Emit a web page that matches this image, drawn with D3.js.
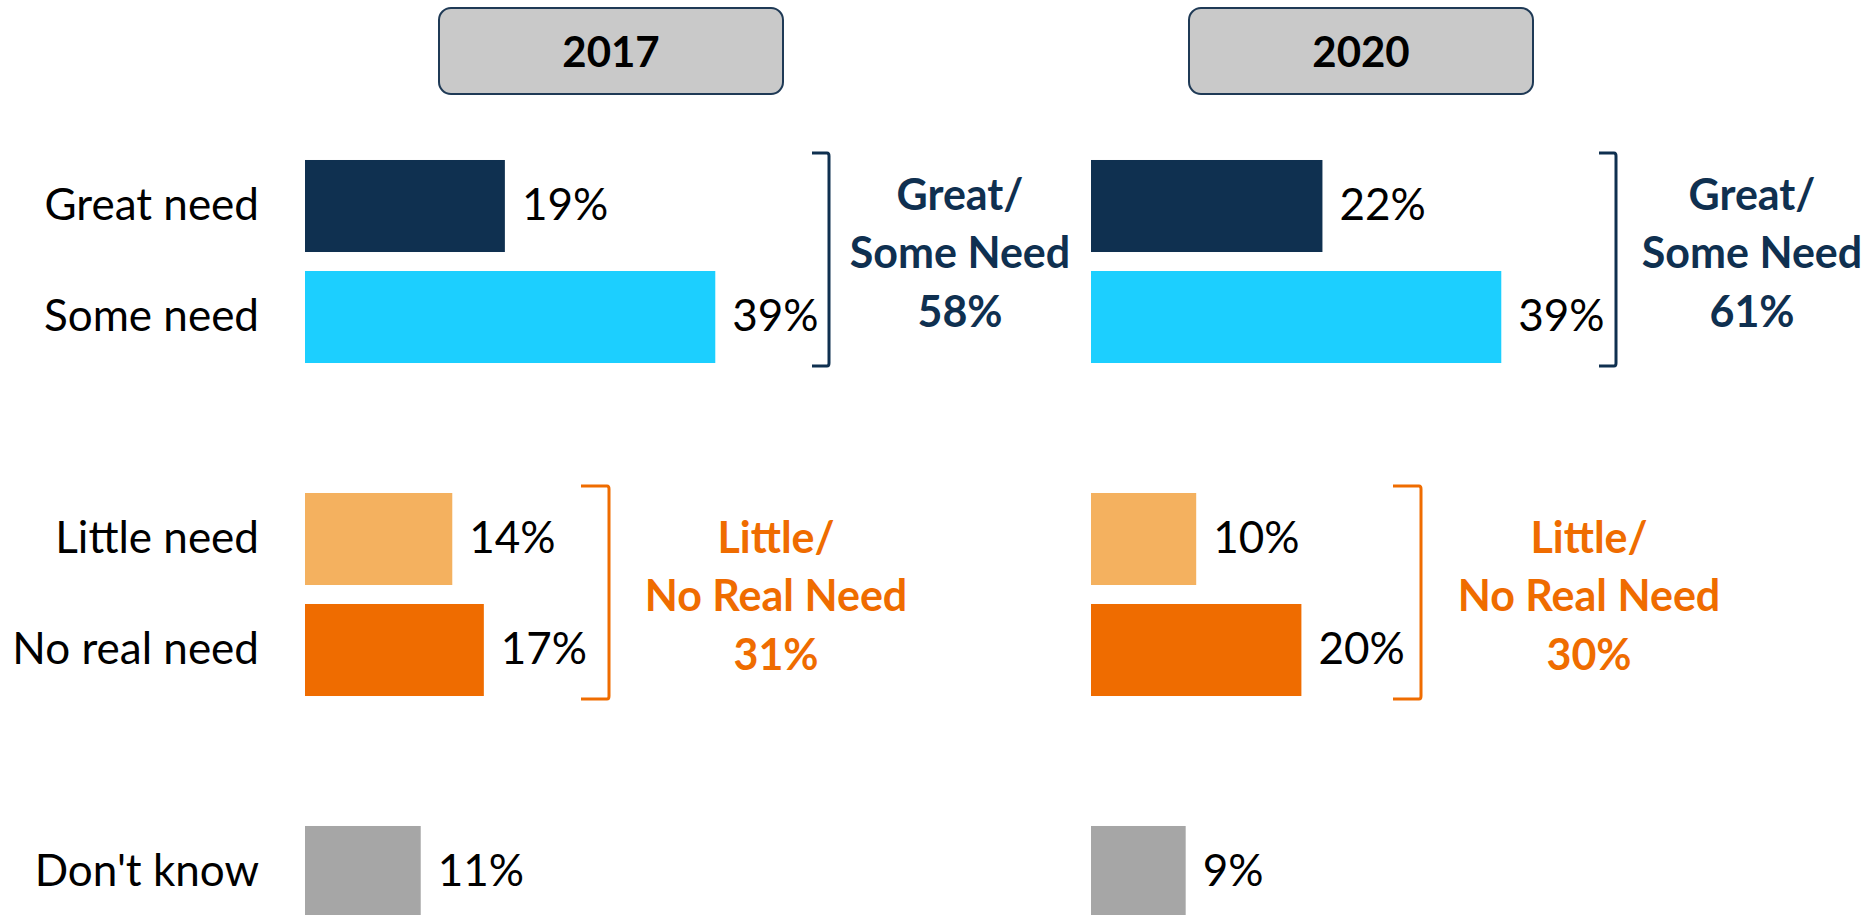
<!DOCTYPE html>
<html lang="en">
<head>
<meta charset="UTF-8">
<script src="https://d3js.org/d3.v7.min.js"></script>
<title>Need by year</title>
<style>
  body { margin: 0; background: #fff; font-family: Lato, sans-serif; }
  svg { display: block; }
</style>
</head>
<body>
<div id="wrapper"></div>
<script>
// data
const years = ["2017", "2020"];
const categories = ["Great need", "Some need", "Little need", "No real need", "Don't know"];
const values2017 = [19, 39, 14, 17, 11];
const values2020 = [22, 39, 10, 20, 9];
const groupNames = [["Great/", "Some Need"], ["Little/", "No Real Need"]];
const groupTotals2017 = [58, 31];
const groupTotals2020 = [61, 30];

const barColors = ["#0f3050", "#1ccfff", "#f4b15f", "#ef6c00", "#a6a6a6"];
const groupColors = ["#0f3050", "#ef6c00"];

const dimensions = { width: 1870, height: 915 };

// rows with empty slots between the groups
const slots = ["Great need", "Some need", "gap1", "Little need", "No real need", "gap2", "Don't know"];
const groups = [["Great need", "Some need"], ["Little need", "No real need"]];

const panels = [
  { x0: 305, boxCx: 611, bracketX: [524, 304], tick: [17, 28], labelCx: [655, 471] },
  { x0: 1091, boxCx: 1361, bracketX: [525, 330], tick: [17, 28], labelCx: [661, 498] }
];
const series = [values2017, values2020];
const totals = [groupTotals2017, groupTotals2020];

const svg = d3.select("#wrapper").append("svg")
  .attr("width", dimensions.width)
  .attr("height", dimensions.height);

const yScale = d3.scaleBand()
  .domain(slots)
  .range([150.5, 927.5])
  .paddingInner(0.171)
  .paddingOuter(0.0855);

const xScale = d3.scaleLinear()
  .domain([0, 100])
  .range([0, 1052]);

// category labels
svg.append("g").selectAll("text")
  .data(categories)
  .join("text")
    .attr("x", 259)
    .attr("y", d => yScale(d) + yScale.bandwidth() / 2 + 14)
    .attr("text-anchor", "end")
    .style("font-size", "44px")
    .attr("fill", "#000")
    .text(d => d);

panels.forEach((p, i) => {
  const g = svg.append("g").attr("transform", `translate(${p.x0},0)`);
  const vals = series[i];

  // year header box
  svg.append("rect")
    .attr("x", p.boxCx - 172)
    .attr("y", 8)
    .attr("width", 344)
    .attr("height", 86)
    .attr("rx", 12)
    .attr("fill", "#c9c9c9")
    .attr("stroke", "#1f3a56")
    .attr("stroke-width", 2);
  svg.append("text")
    .attr("x", p.boxCx)
    .attr("y", 67)
    .attr("text-anchor", "middle")
    .style("font-size", "42px")
    .style("font-weight", "bold")
    .text(years[i]);

  // bars
  g.selectAll("rect")
    .data(categories)
    .join("rect")
      .attr("x", 0)
      .attr("y", d => yScale(d))
      .attr("width", (d, j) => xScale(vals[j]))
      .attr("height", yScale.bandwidth())
      .attr("fill", (d, j) => barColors[j]);

  g.selectAll("text.val")
    .data(categories)
    .join("text")
      .attr("class", "val")
      .attr("x", (d, j) => xScale(vals[j]) + 17)
      .attr("y", d => yScale(d) + yScale.bandwidth() / 2 + 14)
      .style("font-size", "44px")
      .text((d, j) => vals[j] + "%");

  // brackets + group totals
  groups.forEach((grp, k) => {
    const top = yScale(grp[0]) - 7;
    const bot = yScale(grp[1]) + yScale.bandwidth() + 3;
    const bx = p.bracketX[k];
    const t = p.tick[k];
    g.append("path")
      .attr("d", `M${bx - t},${top} L${bx - 2},${top} Q${bx},${top} ${bx},${top + 3} L${bx},${bot - 3} Q${bx},${bot} ${bx - 2},${bot} L${bx - t},${bot}`)
      .attr("fill", "none")
      .attr("stroke", groupColors[k])
      .attr("stroke-width", 3);

    const mid = (yScale(grp[0]) + yScale(grp[1]) + yScale.bandwidth()) / 2;
    const lines = [groupNames[k][0], groupNames[k][1], totals[i][k] + "%"];
    const first = k === 0 ? mid - 52 : mid - 42;
    g.append("g").selectAll("text")
      .data(lines)
      .join("text")
        .attr("x", p.labelCx[k])
        .attr("y", (d, j) => first + j * 58.5)
        .attr("text-anchor", "middle")
        .attr("fill", groupColors[k])
        .style("font-size", "43px")
        .style("font-weight", "bold")
        .text(d => d);
  });
});
</script>
</body>
</html>
